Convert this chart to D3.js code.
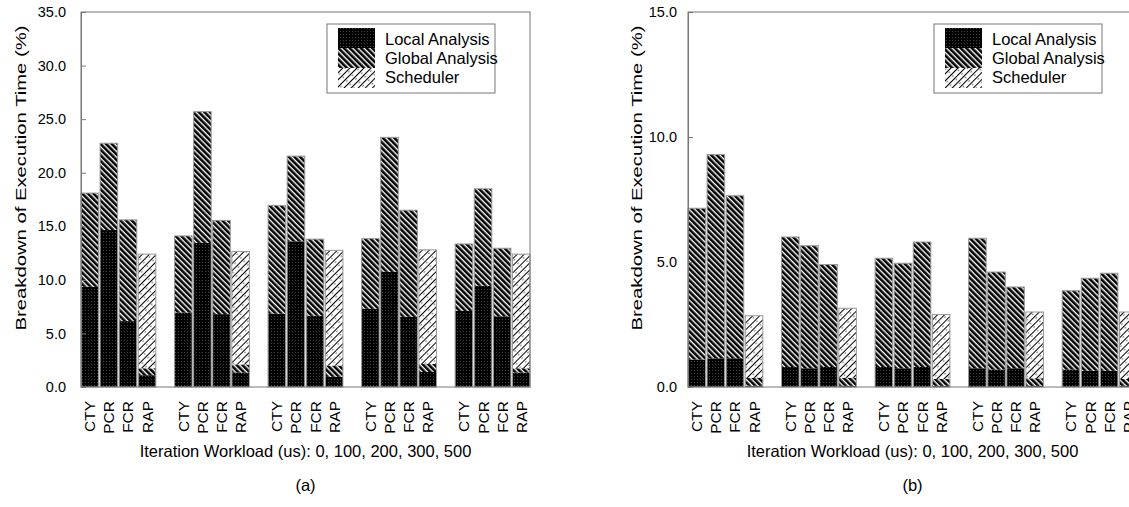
<!DOCTYPE html>
<html>
<head>
<meta charset="utf-8">
<script src="https://cdn.jsdelivr.net/npm/d3@7"></script>
<style>
  body { margin: 0; background: #fff; }
  text { font-family: "Liberation Sans", Arial, Helvetica, sans-serif; fill: #000; }
</style>
</head>
<body>
<div id="chart"></div>
<script>
// categories
const groups = ["0", "100", "200", "300", "500"];   // iteration workload (us)
const schemes = ["CTY", "PCR", "FCR", "RAP"];
const components = ["Local Analysis", "Global Analysis", "Scheduler"];

// panel (a): values in group order, CTY PCR FCR RAP inside each group
const localA = [9.35, 14.65, 6.15, 1.1,  6.95, 13.45, 6.8, 1.35,  6.85, 13.6, 6.65, 0.95,  7.3, 10.75, 6.55, 1.4,  7.1, 9.45, 6.6, 1.35];
const globalA = [8.75, 8.1, 9.45, 0.65,  7.15, 12.25, 8.75, 0.75,  10.1, 7.95, 7.15, 1.05,  6.55, 12.55, 9.95, 0.75,  6.25, 9.05, 6.35, 0.4];
const schedA = [0, 0, 0, 10.65,  0, 0, 0, 10.55,  0, 0, 0, 10.75,  0, 0, 0, 10.65,  0, 0, 0, 10.65];

// panel (b)
const localB = [1.1, 1.15, 1.15, 0.05,  0.8, 0.75, 0.8, 0.05,  0.8, 0.75, 0.8, 0.05,  0.75, 0.7, 0.75, 0.05,  0.7, 0.65, 0.65, 0.05];
const globalB = [6.05, 8.15, 6.5, 0.32,  5.2, 4.9, 4.1, 0.32,  4.35, 4.2, 5.0, 0.27,  5.2, 3.9, 3.25, 0.3,  3.15, 3.7, 3.9, 0.27];
const schedB = [0, 0, 0, 2.48,  0, 0, 0, 2.78,  0, 0, 0, 2.58,  0, 0, 0, 2.65,  0, 0, 0, 2.68];

// tick labels
const ticksA = [0, 5, 10, 15, 20, 25, 30, 35];
const ticksB = [0, 5, 10, 15];

const width = 1129, height = 507;

const svg = d3.select("#chart")
  .append("svg")
    .attr("width", width)
    .attr("height", height);

// fill patterns
const defs = svg.append("defs");

const pLocal = defs.append("pattern").attr("id", "pat0")
  .attr("patternUnits", "userSpaceOnUse").attr("width", 3).attr("height", 3);
pLocal.append("rect").attr("width", 3).attr("height", 3).attr("fill", "#000");
pLocal.append("rect").attr("x", 1).attr("y", 1).attr("width", 1).attr("height", 1).attr("fill", "#444");

const pGlobal = defs.append("pattern").attr("id", "pat1")
  .attr("patternUnits", "userSpaceOnUse").attr("width", 4).attr("height", 4)
  .attr("patternTransform", "rotate(-45)");
pGlobal.append("rect").attr("width", 4).attr("height", 4).attr("fill", "#fff");
pGlobal.append("rect").attr("width", 2.6).attr("height", 4).attr("fill", "#000");

const pSched = defs.append("pattern").attr("id", "pat2")
  .attr("patternUnits", "userSpaceOnUse").attr("width", 5).attr("height", 8)
  .attr("patternTransform", "rotate(45)");
pSched.append("rect").attr("width", 5).attr("height", 8).attr("fill", "#fff");
pSched.append("rect").attr("width", 1).attr("height", 8).attr("fill", "#000");
pSched.append("circle").attr("cx", 2.5).attr("cy", 4).attr("r", 0.8).attr("fill", "#555");

const keys = ["local", "global", "sched"];

function panel(opt) {
  const x0 = opt.left, x1 = opt.left + 449, y0 = 12, y1 = 387;

  const y = d3.scaleLinear().domain([0, opt.yMax]).range([y1, y0]);
  const xg = d3.scaleBand().domain(groups).range([x0, x1]).paddingInner(0.2).paddingOuter(0);
  const xs = d3.scaleBand().domain(schemes).range([0, xg.bandwidth()]).paddingInner(0.08);

  const rows = [];
  groups.forEach((g, gi) => schemes.forEach((s, si) => {
    const i = gi * 4 + si;
    rows.push({group: g, scheme: s, local: opt.local[i], global: opt.global[i], sched: opt.sched[i]});
  }));

  const series = d3.stack().keys(keys)(rows);

  const g = svg.append("g");

  // stacked segments
  g.selectAll("g.layer")
    .data(series)
    .join("g")
      .attr("class", "layer")
      .attr("fill", (d, i) => `url(#pat${i})`)
    .selectAll("rect")
    .data(d => d.filter(v => v[1] - v[0] > 0))
    .join("rect")
      .attr("x", d => xg(d.data.group) + xs(d.data.scheme))
      .attr("y", d => y(d[1]))
      .attr("width", xs.bandwidth())
      .attr("height", d => y(d[0]) - y(d[1]));

  // bar outlines
  g.selectAll("rect.outline")
    .data(rows)
    .join("rect")
      .attr("class", "outline")
      .attr("x", d => xg(d.group) + xs(d.scheme))
      .attr("y", d => y(d.local + d.global + d.sched))
      .attr("width", xs.bandwidth())
      .attr("height", d => y1 - y(d.local + d.global + d.sched))
      .attr("fill", "none")
      .attr("stroke", "#999")
      .attr("stroke-width", 1);

  // frame
  g.append("rect")
    .attr("x", x0).attr("y", y0)
    .attr("width", x1 - x0).attr("height", y1 - y0)
    .attr("fill", "none").attr("stroke", "#777").attr("stroke-width", 1);

  // y axis
  const ax = g.append("g")
    .attr("transform", `translate(${x0},0)`)
    .call(d3.axisLeft(y).tickValues(opt.ticks).tickFormat(d3.format(".1f"))
      .tickSizeInner(-5).tickSizeOuter(0).tickPadding(opt.pad));
  ax.select(".domain").attr("stroke", "#777");
  ax.selectAll(".tick line").attr("stroke", "#777");
  ax.selectAll(".tick text").style("font-size", "14.5px")
    .style("font-family", "Liberation Sans, Arial, sans-serif");

  // x tick labels (rotated)
  g.selectAll("text.xl")
    .data(rows)
    .join("text")
      .attr("class", "xl")
      .attr("transform", d => `translate(${xg(d.group) + xs(d.scheme) + xs.bandwidth() / 2},401) rotate(-90)`)
      .attr("text-anchor", "end")
      .attr("dominant-baseline", "central")
      .style("font-size", "15.5px")
      .text(d => d.scheme);

  // axis titles
  g.append("text")
    .attr("transform", `translate(${opt.titleX},178) rotate(-90)`)
    .attr("text-anchor", "middle")
    .attr("dominant-baseline", "central")
    .style("font-size", "15.5px")
    .attr("textLength", 305)
    .attr("lengthAdjust", "spacingAndGlyphs")
    .text("Breakdown of Execution Time (%)");

  g.append("text")
    .attr("x", x0 + 224.5).attr("y", 457)
    .attr("text-anchor", "middle")
    .style("font-size", "16.5px")
    .text("Iteration Workload (us): 0, 100, 200, 300, 500");

  g.append("text")
    .attr("x", x0 + 224.5).attr("y", 491)
    .attr("text-anchor", "middle")
    .style("font-size", "16.5px")
    .text(opt.label);

  // legend
  const lx = x0 + 246, ly = 24;
  const lg = g.append("g");
  lg.append("rect")
    .attr("x", lx).attr("y", ly).attr("width", 168).attr("height", 69)
    .attr("fill", "#fff").attr("stroke", "#777").attr("stroke-width", 1);
  components.forEach((c, i) => {
    lg.append("rect")
      .attr("x", lx + 11).attr("y", ly + 4 + i * 20)
      .attr("width", 37).attr("height", 20)
      .attr("fill", `url(#pat${i})`);
    lg.append("text")
      .attr("x", lx + 58).attr("y", ly + 21 + i * 19)
      .style("font-size", "16.5px")
      .text(c);
  });
}

panel({left: 81, yMax: 35, ticks: ticksA, pad: 15, titleX: 20,
       local: localA, global: globalA, sched: schedA, label: "(a)"});
panel({left: 688, yMax: 15, ticks: ticksB, pad: 11, titleX: 636,
       local: localB, global: globalB, sched: schedB, label: "(b)"});
</script>
</body>
</html>
